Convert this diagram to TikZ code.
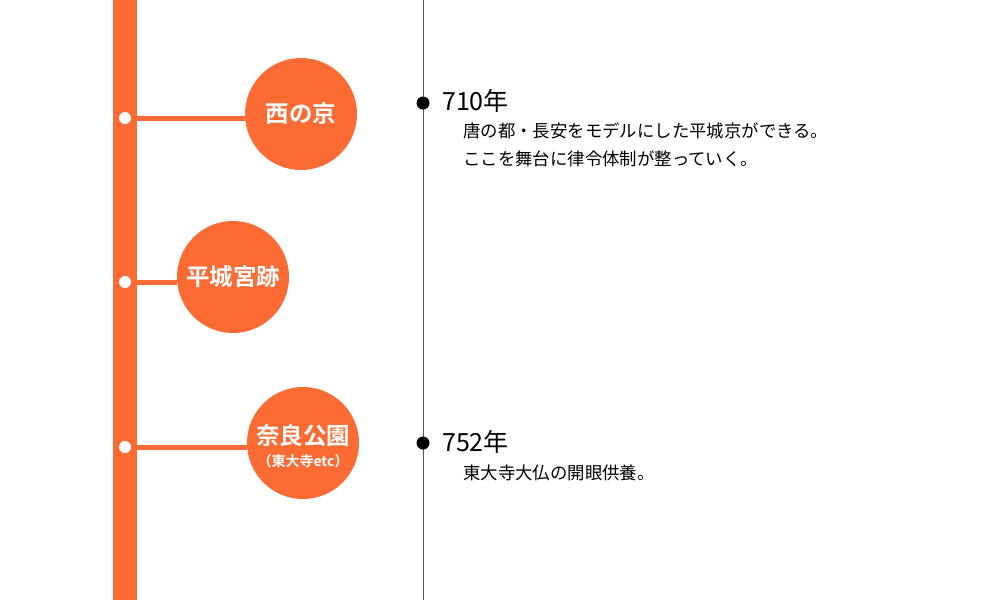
\documentclass[tikz,border=0pt]{standalone}
\usepackage{fontspec}
\newfontfamily\jp{Noto Sans CJK JP}
\newfontfamily\jpb{Noto Sans CJK JP Bold}
\definecolor{orng}{HTML}{FC6B33}
\definecolor{gline}{HTML}{555555}
\begin{document}
\begin{tikzpicture}[x=1pt,y=-1pt,
  spot/.style={circle,fill=orng,minimum size=112pt,inner sep=0pt},
  spottext/.style={text=white,inner sep=0pt,font=\jpb\fontsize{23.5}{26}\selectfont},
  smalltext/.style={text=white,inner sep=0pt,font=\jpb\fontsize{14}{16}\selectfont},
  wdot/.style={circle,fill=white,minimum size=12pt,inner sep=0pt},
  bdot/.style={circle,fill=black,minimum size=13pt,inner sep=0pt},
  conn/.style={draw=orng,line width=5pt},
  year/.style={anchor=base west,inner sep=0pt,font=\jp\fontsize{25}{28}\selectfont},
  body/.style={anchor=base west,inner sep=0pt,font=\jp\fontsize{17.4}{20}\selectfont}]
\useasboundingbox (0,0) rectangle (1000,600);
\fill[orng] (113,0) rectangle (137,600);
\draw[gline,line width=1pt] (423,0) -- (423,600);
% circles
\node[spot] (c1) at (301,114) {};
\node[spottext] (l1) at (c1) {西の京};
\node[spot] (c2) at (233,277) {};
\node[spottext] (l2) at (c2) {平城宮跡};
\node[spot] (c3) at (303,443) {};
\node[spottext] (l3) at (303,436) {奈良公園};
\node[smalltext] (l3b) at (303,461) {（東大寺etc）};
% dots
\coordinate (d1) at (125,118);
\coordinate (d2) at (125,282);
\coordinate (d3) at (125,447);
\draw[conn] (d1) -- (d1 -| c1.west);
\draw[conn] (d2) -- (d2 -| c2.west);
\draw[conn] (d3) -- (d3 -| c3.west);
\node[wdot] (w1) at (d1) {};
\node[wdot] (w2) at (d2) {};
\node[wdot] (w3) at (d3) {};
% timeline
\node[bdot] (b1) at (423,103) {};
\node[bdot] (b2) at (423,443) {};
\node[year] (y1) at (442,110) {710年};
\node[body] (t1) at (463,137) {唐の都・長安をモデルにした平城京ができる。};
\node[body] (t1b) at (463,165) {ここを舞台に律令体制が整っていく。};
\node[year] (y2) at (442,451) {752年};
\node[body] (t2) at (463,479) {東大寺大仏の開眼供養。};
\end{tikzpicture}
\end{document}
